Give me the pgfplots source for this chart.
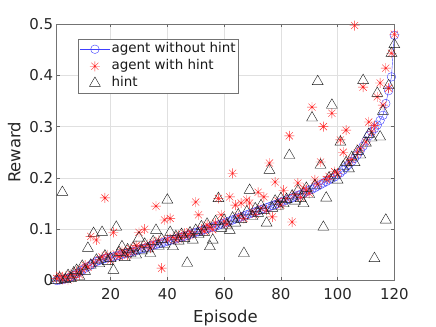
\documentclass[border=0pt]{standalone}
\usepackage{pgfplots}
\usepackage{pgfplotstable}
\pgfplotsset{compat=1.18}
\usepackage{fontspec}
\setmainfont{DejaVu Sans}

% MATLAB-style 8-arm asterisk
\pgfdeclareplotmark{mstar}{%
  \pgfpathmoveto{\pgfqpoint{-\pgfplotmarksize}{0pt}}%
  \pgfpathlineto{\pgfqpoint{\pgfplotmarksize}{0pt}}%
  \pgfpathmoveto{\pgfqpoint{0pt}{-\pgfplotmarksize}}%
  \pgfpathlineto{\pgfqpoint{0pt}{\pgfplotmarksize}}%
  \pgfpathmoveto{\pgfqpoint{-0.707\pgfplotmarksize}{-0.707\pgfplotmarksize}}%
  \pgfpathlineto{\pgfqpoint{0.707\pgfplotmarksize}{0.707\pgfplotmarksize}}%
  \pgfpathmoveto{\pgfqpoint{-0.707\pgfplotmarksize}{0.707\pgfplotmarksize}}%
  \pgfpathlineto{\pgfqpoint{0.707\pgfplotmarksize}{-0.707\pgfplotmarksize}}%
  \pgfusepathqstroke}

% ep, agent without hint, agent with hint, hint
\pgfplotstableread{
ep  noh    wh     h
1   0.000  0.004  0.000
2   0.001  0.010  0.005
3   0.002  0.002  0.172
4   0.003  0.008  0.002
5   0.005  0.001  0.010
6   0.007  0.012  0.004
7   0.010  0.006  0.015
8   0.013  0.018  0.020
9   0.016  0.011  0.008
10  0.020  0.022  0.028
11  0.024  0.030  0.018
12  0.027  0.026  0.063
13  0.030  0.086  0.030
14  0.034  0.035  0.092
15  0.037  0.079  0.040
16  0.039  0.041  0.033
17  0.041  0.046  0.094
18  0.043  0.161  0.048
19  0.044  0.050  0.037
20  0.045  0.040  0.043
21  0.046  0.094  0.020
22  0.048  0.052  0.104
23  0.049  0.047  0.055
24  0.051  0.058  0.066
25  0.052  0.055  0.045
26  0.054  0.050  0.060
27  0.055  0.062  0.053
28  0.057  0.057  0.064
29  0.058  0.068  0.050
30  0.060  0.094  0.083
31  0.062  0.066  0.058
32  0.063  0.100  0.071
33  0.065  0.070  0.062
34  0.067  0.063  0.053
35  0.069  0.074  0.076
36  0.070  0.145  0.098
37  0.072  0.078  0.067
38  0.073  0.024  0.080
39  0.075  0.118  0.071
40  0.077  0.080  0.157
41  0.078  0.121  0.094
42  0.080  0.084  0.066
43  0.081  0.079  0.086
44  0.083  0.088  0.077
45  0.085  0.083  0.090
46  0.086  0.092  0.082
47  0.088  0.087  0.034
48  0.090  0.095  0.093
49  0.092  0.090  0.079
50  0.094  0.153  0.098
51  0.095  0.128  0.090
52  0.097  0.100  0.105
53  0.099  0.096  0.094
54  0.101  0.108  0.110
55  0.103  0.104  0.066
56  0.104  0.099  0.079
57  0.106  0.112  0.115
58  0.108  0.160  0.160
59  0.110  0.128  0.102
60  0.112  0.115  0.118
61  0.114  0.110  0.108
62  0.116  0.163  0.098
63  0.118  0.209  0.122
64  0.120  0.147  0.112
65  0.122  0.126  0.128
66  0.124  0.151  0.119
67  0.126  0.121  0.053
68  0.128  0.157  0.134
69  0.130  0.151  0.176
70  0.132  0.135  0.125
71  0.134  0.129  0.140
72  0.136  0.172  0.131
73  0.138  0.141  0.146
74  0.140  0.163  0.137
75  0.142  0.137  0.112
76  0.144  0.229  0.215
77  0.146  0.124  0.141
78  0.148  0.192  0.155
79  0.150  0.155  0.145
80  0.153  0.147  0.160
81  0.155  0.176  0.150
82  0.157  0.160  0.158
83  0.159  0.282  0.244
84  0.161  0.114  0.165
85  0.164  0.168  0.155
86  0.166  0.190  0.175
87  0.168  0.162  0.160
88  0.170  0.180  0.150
89  0.173  0.176  0.180
90  0.176  0.170  0.168
91  0.178  0.338  0.317
92  0.181  0.196  0.185
93  0.184  0.188  0.388
94  0.187  0.231  0.225
95  0.190  0.300  0.104
96  0.193  0.197  0.161
97  0.196  0.203  0.200
98  0.199  0.326  0.342
99  0.202  0.212  0.205
100 0.206  0.209  0.196
101 0.210  0.274  0.270
102 0.215  0.250  0.222
103 0.221  0.293  0.230
104 0.226  0.231  0.218
105 0.232  0.236  0.240
106 0.238  0.497  0.230
107 0.245  0.249  0.252
108 0.253  0.258  0.245
109 0.262  0.377  0.390
110 0.272  0.270  0.268
111 0.282  0.309  0.285
112 0.290  0.290  0.278
113 0.296  0.302  0.043
114 0.303  0.358  0.365
115 0.312  0.385  0.280
116 0.322  0.342  0.330
117 0.345  0.414  0.118
118 0.370  0.375  0.380
119 0.397  0.443  0.443
120 0.478  0.480  0.460
}\data

\begin{document}
\begin{tikzpicture}
\useasboundingbox (-56.7bp,-46.5bp) rectangle (379.3bp,280.5bp);
\begin{axis}[
  at={(0,0)}, anchor=south west,
  width=337.6bp, height=256.5bp, scale only axis,
  xmin=1, xmax=120, ymin=0, ymax=0.5,
  xtick={20,40,...,120},
  ytick={0,0.1,0.2,0.3,0.4,0.5},
  yticklabel style={/pgf/number format/.cd,fixed,precision=1},
  xticklabel style={yshift=-4bp},
  /pgf/number format/assume math mode=true,
  tick label style={font=\fontsize{15}{18}\selectfont, text=black!85},
  tick align=inside, major tick length=3.5bp,
  tick style={black!60, line width=0.5bp},
  axis line style={black!55, line width=0.6bp},
  grid=major, major grid style={black!12, line width=0.5bp},
  clip=false,
  xlabel={Episode}, ylabel={Reward},
  every axis x label/.style={at={(axis description cs:0.5,-0.1645)}, anchor=base,
    font=\fontsize{16.5}{19}\selectfont, text=black!85},
  every axis y label/.style={at={(axis description cs:-0.126,0.5)}, rotate=90, anchor=center,
    font=\fontsize{16.5}{19}\selectfont, text=black!85},
  legend cell align=left,
  legend image code/.code={\draw[mark repeat=2,mark phase=2,#1]
    plot coordinates {(0bp,0bp) (15bp,0bp) (30bp,0bp)};},
  legend style={at={(axis description cs:0.063,0.9415)}, anchor=north west,
    draw=black!55, line width=0.5bp, fill=white,
    font=\fontsize{13.5}{16}\selectfont, text=black!90,
    row sep=0pt, inner sep=1.5bp,
    nodes={inner sep=1.5bp, text height=10.5bp, text depth=3.5bp}},
]
\addplot[blue!75, line width=0.4bp, mark=o, mark size=4.3bp,
  mark options={line width=0.4bp}] table[x=ep, y=noh] {\data};
\addplot[red!85, only marks, mark=mstar, mark size=5bp,
  mark options={line width=0.4bp}] table[x=ep, y=wh] {\data};
\addplot[black!90, only marks, mark=triangle, mark size=6.3bp,
  mark options={line width=0.4bp}] table[x=ep, y=h] {\data};
\legend{agent without hint, agent with hint, hint}
\end{axis}
\end{tikzpicture}
\end{document}
